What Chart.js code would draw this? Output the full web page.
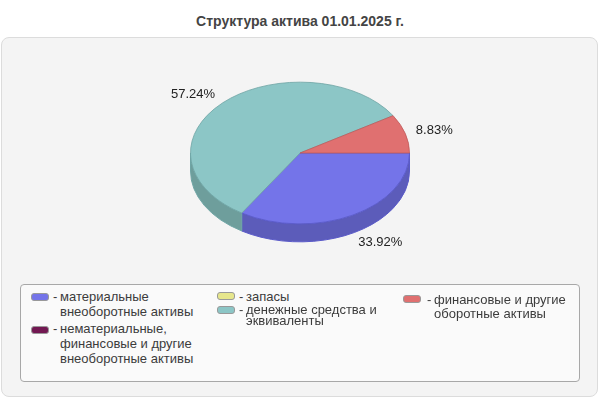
<!DOCTYPE html>
<html>
<head>
<meta charset="utf-8">
<script src="https://cdn.jsdelivr.net/npm/chart.js@4"></script>
<style>
  body { margin: 0; width: 600px; height: 400px; overflow: hidden; background: #fff;
         font-family: "Liberation Sans", Arial, sans-serif; }
  #title { position: absolute; left: 0; top: 13px; width: 600px; text-align: center;
           font-size: 14px; line-height: 16px; font-weight: bold; color: #444; }
  #frame { position: absolute; left: 1px; top: 37px; width: 595px; height: 358px;
           border: 1px solid #dcdcdc; border-radius: 8px; background: #f4f4f4; }
  #chart { position: absolute; left: 0; top: 0; }
  #legend { position: absolute; left: 20px; top: 284px; width: 558px; height: 96px;
            border: 1px solid #a8a8a8; border-radius: 4px; background: #fafafa; }
  .item { position: absolute; font-size: 13px; color: #3c3c3c; }
  .swatch { position: absolute; width: 16px; height: 6px; border: 1px solid #999;
            border-radius: 3px; }
  .dash { position: absolute; }
  .text { position: absolute; width: 150px; }
</style>
</head>
<body>
<div id="title">Структура актива 01.01.2025 г.</div>
<div id="frame"></div>
<canvas id="chart" width="600" height="400"></canvas>
<div id="legend"></div>
<script>
// данные диаграммы
const categories = [
  "материальные внеоборотные активы",
  "нематериальные, финансовые и другие внеоборотные активы",
  "запасы",
  "денежные средства и эквиваленты",
  "финансовые и другие оборотные активы"
];
const shares = [33.92, 0, 0, 57.24, 8.83];

// цвета: верх, бок, контур
const topColors = ["#7474e9", "#721852", "#e6e68c", "#8cc6c6", "#e07070"];
const sideColors = ["#5c5cba", "#5a1341", "#b8b870", "#6e9e9c", "#b35a5a"];
const edgeColors = ["#5a5ac8", "#5a1341", "#b8b870", "#6fa5a5", "#c05a5a"];

// положение элементов легенды (относительно рамки легенды)
const legendPos = [
  { x: 10, y: 4, lh: 15, sw: 12, tx: 29 },
  { x: 10, y: 36, lh: 15, sw: 45, tx: 29 },
  { x: 196, y: 6, lh: 11, sw: 11, tx: 29 },
  { x: 196, y: 19, lh: 11, sw: 25, tx: 29 },
  { x: 382, y: 8, lh: 14, sw: 14, tx: 31 }
];

const tilt = 0.647; // сжатие эллипса
const depth = 18; // толщина пирога

// плагин псевдо-3D: боковые стенки + сжатие верхней поверхности
const pie3d = {
  id: "pie3d",
  beforeDatasetsDraw(chart) {
    const ctx = chart.ctx;
    const arcs = chart.getDatasetMeta(0).data;
    ctx.save();
    arcs.forEach((arc, i) => {
      const a1 = Math.max(arc.startAngle, 0);
      const a2 = Math.min(arc.endAngle, Math.PI);
      if (a2 <= a1) return;
      const cx = arc.x, cy = arc.y, r = arc.outerRadius, ry = r * tilt;
      ctx.beginPath();
      ctx.ellipse(cx, cy, r, ry, 0, a1, a2);
      ctx.lineTo(cx + r * Math.cos(a2), cy + ry * Math.sin(a2) + depth);
      ctx.ellipse(cx, cy + depth, r, ry, 0, a2, a1, true);
      ctx.closePath();
      ctx.fillStyle = sideColors[i];
      ctx.fill();
      ctx.strokeStyle = edgeColors[i];
      ctx.lineWidth = 1;
      ctx.stroke();
    });
    const cy = arcs[0].y;
    ctx.translate(0, cy);
    ctx.scale(1, tilt);
    ctx.translate(0, -cy);
  },
  afterDatasetsDraw(chart) {
    const ctx = chart.ctx;
    ctx.restore();
    // подписи процентов
    const arcs = chart.getDatasetMeta(0).data;
    ctx.save();
    ctx.font = '13px "Liberation Sans", Arial, sans-serif';
    ctx.fillStyle = "#222";
    ctx.textBaseline = "middle";
    arcs.forEach((arc, i) => {
      if (!shares[i]) return;
      const mid = (arc.startAngle + arc.endAngle) / 2;
      const c = Math.cos(mid), s = Math.sin(mid);
      const r = arc.outerRadius;
      const x = arc.x + c * r * 1.1;
      const y = arc.y + s * r * tilt * 1.16 + (s > 0 ? depth : 0);
      ctx.textAlign = c >= 0 ? "left" : "right";
      ctx.fillText(shares[i].toFixed(2) + "%", x, y);
    });
    ctx.restore();
  }
};

const chart = new Chart(document.getElementById("chart"), {
  type: "pie",
  data: {
    labels: categories,
    datasets: [{
      data: shares,
      backgroundColor: topColors,
      borderColor: edgeColors,
      borderWidth: 1,
      clip: false
    }]
  },
  options: {
    responsive: false,
    animation: false,
    events: [],
    rotation: 90,
    layout: { padding: { left: 190, right: 190, top: 43, bottom: 137 } },
    plugins: { legend: { display: false }, tooltip: { enabled: false } }
  },
  plugins: [pie3d]
});

// легенда в HTML
const legend = document.getElementById("legend");
categories.forEach((name, i) => {
  const p = legendPos[i];
  const item = document.createElement("div");
  item.className = "item";
  item.style.left = p.x + "px";
  item.style.top = "0px";
  item.innerHTML =
    `<div class="swatch" style="left:0;top:${p.sw - 4}px;background:${topColors[i]}"></div>` +
    `<div class="dash" style="left:${p.tx - 7}px;top:${p.y}px;line-height:${p.lh}px">-</div>` +
    `<div class="text" style="left:${p.tx}px;top:${p.y}px;line-height:${p.lh}px">${name}</div>`;
  legend.appendChild(item);
});
</script>
</body>
</html>
